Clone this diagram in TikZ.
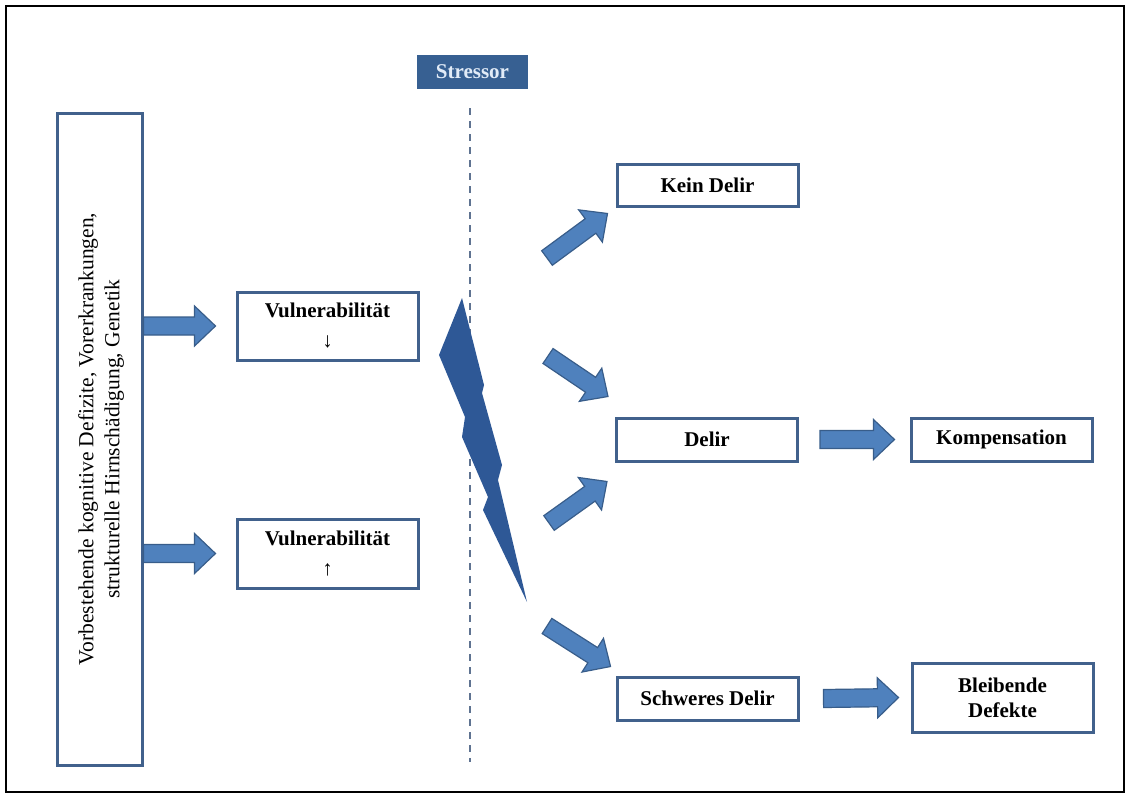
\documentclass[tikz,border=0pt]{standalone}
\usepackage{fontspec}
\setmainfont{Liberation Serif}
\usetikzlibrary{calc, positioning}

\definecolor{boxline}{RGB}{65,97,140}
\definecolor{arrfill}{RGB}{79,129,189}
\definecolor{arrline}{RGB}{56,93,138}
\definecolor{boltblue}{RGB}{46,88,150}
\definecolor{stressfill}{RGB}{55,96,146}
\definecolor{stresstext}{RGB}{225,235,247}
\definecolor{dashgray}{RGB}{95,115,145}

% block arrow from #1 (tail) to #2 (tip)
\newcommand{\blockarrow}[2]{%
  \filldraw[blockarr] let \p1=($(#2)-(#1)$), \n1={atan2(\y1,\x1)},
      \n2={veclen(\x1,\y1)-21pt} in
    ($(#1)+(\n1+90:9pt)$) -- ($(#1)+(\n1:\n2)+(\n1+90:9pt)$)
    -- ($(#1)+(\n1:\n2)+(\n1+90:20pt)$) -- (#2)
    -- ($(#1)+(\n1:\n2)+(\n1-90:20pt)$) -- ($(#1)+(\n1:\n2)+(\n1-90:9pt)$)
    -- ($(#1)+(\n1-90:9pt)$) -- cycle;}

\begin{document}
\begin{tikzpicture}[
    x=1pt, y=-1pt,
    box/.style={
        rectangle, draw=boxline, line width=3pt, fill=white,
        minimum width=181pt, minimum height=43pt, inner sep=0pt,
        font=\fontsize{21}{25}\selectfont\bfseries, align=center
    },
    tallbox/.style={
        rectangle, draw=boxline, line width=3pt,
        minimum width=85pt, minimum height=652pt
    },
    stressbox/.style={
        rectangle, fill=stressfill, text=stresstext,
        minimum width=111pt, minimum height=34pt,
        font=\fontsize{21}{24}\selectfont\bfseries
    },
    blockarr/.style={fill=arrfill, draw=arrline, line width=1.2pt, line join=miter},
    bolt/.style={fill=boltblue},
    stressline/.style={draw=dashgray, line width=2pt, dash pattern=on 7pt off 6pt},
]
\useasboundingbox (0,0) rectangle (1129,795);
\draw[line width=1.5pt] (6,6) rectangle (1124,792);

% Left column
\node[tallbox] (factors) at (99.5,439) {};
\node[rotate=90, font=\fontsize{21.5}{26}\selectfont, align=center] (factortext) at (101,439)
    {Vorbestehende kognitive Defizite, Vorerkrankungen,\\
     strukturelle Hirnschädigung, Genetik};

% Vulnerability
\node[box, minimum height=68pt, font=\fontsize{21}{30}\selectfont\bfseries] (vlow) at (327.5,326)
    {Vulnerabilität\\{\mdseries ↓}};
\node[box, minimum height=69pt, font=\fontsize{21}{30}\selectfont\bfseries] (vhigh) at (327.5,553.5)
    {Vulnerabilität\\{\mdseries ↑}};

% ============ Stressor ============
\node[stressbox] (stressor) at (472.5,72) {Stressor};
\coordinate (linetop) at (470,108);
\coordinate (linebot) at (470,762);
\draw[stressline] (linetop) -- (linebot);
\fill[bolt] (462,298) -- (484,385) -- (482,393) -- (502,465) -- (498,480) -- (527,602)
    -- (483,510) -- (488,497) -- (462,437) -- (465,417) -- (439,355) -- cycle;

% ============ Outcomes ============
\node[box, minimum height=42pt] (kein) at (707.5,185) {Kein Delir};
\node[box] (delir) at (707,439.5) {Delir};
\node[box] (komp) at (1001.5,439.5) {Kompensation};
\node[box] (schwer) at (707.5,698.5) {Schweres Delir};
\node[box, minimum height=69pt] (bleib) at (1002.5,697.5) {Bleibende\\Defekte};

% ============ Arrows ============
\coordinate (a1s) at (factors.east |- vlow);
\coordinate (a1e) at ([xshift=-20pt]vlow.west);
\coordinate (a2s) at (factors.east |- vhigh);
\coordinate (a2e) at ([xshift=-20pt]vhigh.west);
\blockarrow{a1s}{a1e}
\blockarrow{a2s}{a2e}

\coordinate (k1s) at (547,258);
\coordinate (k1e) at ([shift={(-8pt,-6pt)}]kein.south west);
\coordinate (d1s) at (548,356);
\coordinate (d1e) at ([shift={(-7pt,20pt)}]delir.north west);
\coordinate (d2s) at (549,523);
\coordinate (d2e) at ([shift={(-8pt,-19pt)}]delir.south west);
\coordinate (s1s) at (547,626);
\coordinate (s1e) at ([shift={(-5pt,9pt)}]schwer.north west);
\blockarrow{k1s}{k1e}
\blockarrow{d1s}{d1e}
\blockarrow{d2s}{d2e}
\blockarrow{s1s}{s1e}

\coordinate (c1s) at ([xshift=21pt]delir.east);
\coordinate (c1e) at ([xshift=-15pt]komp.west);
\coordinate (c2s) at ([xshift=24pt]schwer.east);
\coordinate (c2e) at ([xshift=-12pt]bleib.west);
\blockarrow{c1s}{c1e}
\blockarrow{c2s}{c2e}

\end{tikzpicture}
\end{document}
